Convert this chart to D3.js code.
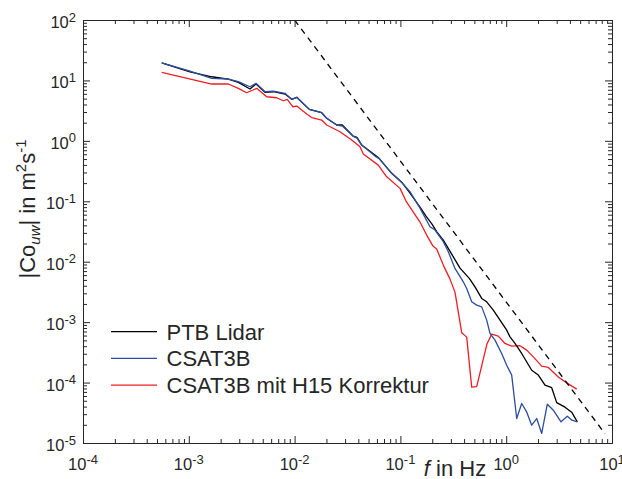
<!DOCTYPE html>
<html>
<head>
<meta charset="utf-8">
<script src="https://cdn.jsdelivr.net/npm/d3@7/dist/d3.min.js"></script>
<style>
  html, body { margin: 0; padding: 0; background: #fff; }
  svg { display: block; font-family: "Liberation Sans", Arial, Helvetica, sans-serif; }
</style>
</head>
<body>
<svg id="chart" width="622" height="479"></svg>
<script>
// ---- data ----
const xTickExps = ["-4", "-3", "-2", "-1", "0", "1"];
const yTickExps = ["-5", "-4", "-3", "-2", "-1", "0", "1", "2"];

const seriesNames = ["PTB Lidar", "CSAT3B", "CSAT3B mit H15 Korrektur"];
const seriesColors = ["#000000", "#2b4ea2", "#ee1d25"];

const lidarF = [5.55e-4, 1.026e-3, 1.646e-3, 2.363e-3, 2.938e-3, 3.789e-3, 4.317e-3, 5.253e-3, 6.29e-3, 8.11e-3,
  9.39e-3, 1.047e-2, 1.377e-2, 1.804e-2, 2.011e-2, 2.50e-2, 2.824e-2, 3.565e-2, 3.89e-2, 4.31e-2,
  5.75e-2, 6.28e-2, 8.28e-2, 0.1042, 0.1233, 0.1532, 0.1746, 0.1989, 0.2218, 0.2544,
  0.3054, 0.366, 0.448, 0.507, 0.587, 0.654, 0.755, 0.874, 1.011, 1.086,
  1.211, 1.401, 1.742, 2.011, 2.327, 2.692, 3.001, 3.595, 4.159, 4.70];
const lidarV = [19.6, 13.9, 11.5, 10.55, 9.30, 7.20, 8.72, 6.35, 6.50, 5.95,
  4.87, 5.25, 3.32, 2.92, 2.36, 1.83, 1.83, 1.20, 1.14, 0.852,
  0.582, 0.513, 0.290, 0.2025, 0.1367, 0.0802, 0.0569, 0.0419, 0.0309, 0.0228,
  0.01336, 0.00784, 0.00529, 0.00384, 0.00247, 0.00217, 0.00158, 0.00108, 7.37e-4, 5.71e-4,
  4.44e-4, 3.03e-4, 1.60e-4, 1.33e-4, 9.06e-5, 8.23e-5, 4.65e-5, 3.92e-5, 3.24e-5, 2.24e-5];

const csatF = [5.55e-4, 1.026e-3, 1.646e-3, 2.363e-3, 2.938e-3, 3.789e-3, 4.317e-3, 5.253e-3, 6.29e-3, 8.11e-3,
  9.39e-3, 1.047e-2, 1.377e-2, 1.804e-2, 2.011e-2, 2.50e-2, 2.824e-2, 3.565e-2, 3.89e-2, 4.31e-2,
  5.75e-2, 6.28e-2, 8.28e-2, 0.1042, 0.1233, 0.1532, 0.1905, 0.2124, 0.2544, 0.2836,
  0.328, 0.393, 0.423, 0.472, 0.526, 0.587, 0.654, 0.703, 0.784, 0.913,
  1.011, 1.127, 1.257, 1.401, 1.562, 1.742, 1.943, 2.166, 2.446, 2.788,
  3.296, 3.780, 4.187, 4.70];
const csatV = [19.6, 14.3, 10.8, 10.55, 9.52, 7.86, 8.95, 6.50, 6.67, 6.12,
  4.87, 5.25, 3.32, 2.92, 2.36, 1.83, 1.76, 1.20, 1.11, 0.852,
  0.560, 0.513, 0.290, 0.200, 0.1437, 0.0772, 0.0378, 0.0334, 0.0214, 0.01459,
  0.00775, 0.00465, 0.00361, 0.00217, 0.00191, 0.00179, 0.00108, 6.50e-4, 5.04e-4, 2.95e-4,
  1.94e-4, 1.33e-4, 2.54e-5, 4.51e-5, 3.27e-5, 1.97e-5, 2.54e-5, 1.44e-5, 4.39e-5, 3.49e-5,
  2.24e-5, 2.78e-5, 2.38e-5, 2.24e-5];

const corrF = [5.55e-4, 1.646e-3, 2.363e-3, 2.938e-3, 3.526e-3, 4.383e-3, 5.45e-3, 6.77e-3, 7.82e-3, 8.53e-3,
  9.60e-3, 1.047e-2, 1.302e-2, 1.451e-2, 1.804e-2, 2.011e-2, 2.686e-2, 3.465e-2, 4.15e-2, 4.46e-2,
  6.18e-2, 7.42e-2, 9.92e-2, 0.1130, 0.1324, 0.1532, 0.1772, 0.2033, 0.2203, 0.2544,
  0.2943, 0.328, 0.3797, 0.4233, 0.472, 0.526, 0.659, 0.730, 0.842, 0.974,
  1.127, 1.350, 1.562, 1.804, 2.166, 2.500, 3.107, 3.731, 4.64];
const corrV = [13.6, 8.72, 8.72, 7.40, 6.26, 7.40, 5.37, 5.17, 4.61, 4.87,
  3.67, 3.77, 2.78, 2.43, 2.21, 1.83, 1.415, 1.031, 0.799, 0.605,
  0.397, 0.2545, 0.1636, 0.1008, 0.0663, 0.0453, 0.0276, 0.01813, 0.01618, 0.00879,
  0.00515, 0.00314, 6.70e-4, 5.65e-4, 8.39e-5, 8.55e-5, 4.40e-4, 6.33e-4, 5.86e-4, 4.44e-4,
  4.01e-4, 4.08e-4, 3.44e-4, 2.66e-4, 1.87e-4, 1.78e-4, 1.24e-4, 9.89e-5, 7.78e-5];

// reference slope line (-7/3)
const slopeF = [0.01, 8.6];
const slopeV = [100, 1.42e-5];

// ---- layout ----
const svg = d3.select("#chart");
const pL = 83, pR = 612, pT = 20, pB = 443;
const axisColor = "#262626";

const x = d3.scaleLog().domain([1e-4, 1e1]).range([pL, pR]);
const y = d3.scaleLog().domain([1e-5, 1e2]).range([pB, pT]);

const majorX = xTickExps.map(e => Math.pow(10, +e));
const majorY = yTickExps.map(e => Math.pow(10, +e));
function minors(lo, hi) {
  const out = [];
  for (let e = lo; e < hi; e++) for (let m = 2; m <= 9; m++) out.push(m * Math.pow(10, e));
  return out;
}
const minorX = minors(-4, 1);
const minorY = minors(-5, 2);

// ---- series ----
const line = d3.line().x(d => x(d[0])).y(d => y(d[1]));
const plot = svg.append("g");
plot.append("clipPath").attr("id", "clip").append("rect")
  .attr("x", pL).attr("y", pT).attr("width", pR - pL).attr("height", pB - pT);

const seriesData = [
  d3.zip(lidarF, lidarV),
  d3.zip(csatF, csatV),
  d3.zip(corrF, corrV)
];
[2, 0, 1].forEach(i => {
  plot.append("path")
    .datum(seriesData[i])
    .attr("fill", "none")
    .attr("stroke", seriesColors[i])
    .attr("stroke-width", 1.3)
    .attr("stroke-linejoin", "round")
    .attr("d", line);
});

plot.append("path")
  .datum(d3.zip(slopeF, slopeV))
  .attr("clip-path", "url(#clip)")
  .attr("fill", "none")
  .attr("stroke", "#000")
  .attr("stroke-width", 1.3)
  .attr("stroke-dasharray", "6,5")
  .attr("d", line);

// ---- axes (ticks inward on all four sides) ----
function styleAxis(g) {
  g.selectAll("path.domain").attr("stroke", axisColor).attr("stroke-width", 1);
  g.selectAll(".tick line").attr("stroke", axisColor).attr("stroke-width", 1);
  g.selectAll(".tick text").remove();
}
const majLen = 7, minLen = 4;
[[d3.axisBottom, pB], [d3.axisTop, pT]].forEach(([fn, pos]) => {
  svg.append("g").attr("transform", `translate(0,${pos})`)
    .call(fn(x).tickValues(minorX).tickSizeInner(-minLen).tickSizeOuter(0).tickFormat(""))
    .call(styleAxis);
  svg.append("g").attr("transform", `translate(0,${pos})`)
    .call(fn(x).tickValues(majorX).tickSizeInner(-majLen).tickSizeOuter(0).tickFormat(""))
    .call(styleAxis);
});
[[d3.axisLeft, pL], [d3.axisRight, pR]].forEach(([fn, pos]) => {
  svg.append("g").attr("transform", `translate(${pos},0)`)
    .call(fn(y).tickValues(minorY).tickSizeInner(-minLen).tickSizeOuter(0).tickFormat(""))
    .call(styleAxis);
  svg.append("g").attr("transform", `translate(${pos},0)`)
    .call(fn(y).tickValues(majorY).tickSizeInner(-majLen).tickSizeOuter(0).tickFormat(""))
    .call(styleAxis);
});

// ---- tick labels (10^n) ----
const tickFont = 16.5, supFont = 13, supRaise = 6.5;
function powLabel(t, exp) {
  t.append("tspan").text("10");
  t.append("tspan").attr("dy", -supRaise).attr("font-size", supFont).text(exp);
}
xTickExps.forEach((e, i) => {
  const t = svg.append("text")
    .attr("x", x(majorX[i])).attr("y", 470)
    .attr("text-anchor", "middle").attr("font-size", tickFont).attr("fill", axisColor);
  powLabel(t, e);
});
yTickExps.forEach((e, i) => {
  const t = svg.append("text")
    .attr("x", 76).attr("y", y(majorY[i]) + 8)
    .attr("text-anchor", "end").attr("font-size", tickFont).attr("fill", axisColor);
  powLabel(t, e);
});

// ---- axis titles ----
const xl = svg.append("text")
  .attr("x", 455).attr("y", 476).attr("text-anchor", "middle")
  .attr("font-size", 22).attr("fill", axisColor);
xl.append("tspan").attr("font-style", "italic").text("f");
xl.append("tspan").text(" in Hz");

const yl = svg.append("text")
  .attr("transform", "translate(35,209) rotate(-90)")
  .attr("text-anchor", "middle").attr("font-size", 22).attr("fill", axisColor);
yl.append("tspan").text("|Co");
yl.append("tspan").attr("font-style", "italic").attr("font-size", 15).attr("dy", 5).text("uw");
yl.append("tspan").attr("dy", -5).text("| in m");
yl.append("tspan").attr("font-size", 15).attr("dy", -9).text("2");
yl.append("tspan").attr("dy", 9).text("s");
yl.append("tspan").attr("font-size", 15).attr("dy", -9).text("-1");

// ---- legend ----
const legY = [331.7, 358.3, 385.2];
seriesNames.forEach((name, i) => {
  svg.append("line")
    .attr("x1", 111).attr("x2", 157).attr("y1", legY[i]).attr("y2", legY[i])
    .attr("stroke", seriesColors[i]).attr("stroke-width", 1.3);
  svg.append("text")
    .attr("x", 166.5).attr("y", legY[i] + 7.8)
    .attr("font-size", 22).attr("fill", axisColor)
    .text(name);
});
</script>
</body>
</html>
